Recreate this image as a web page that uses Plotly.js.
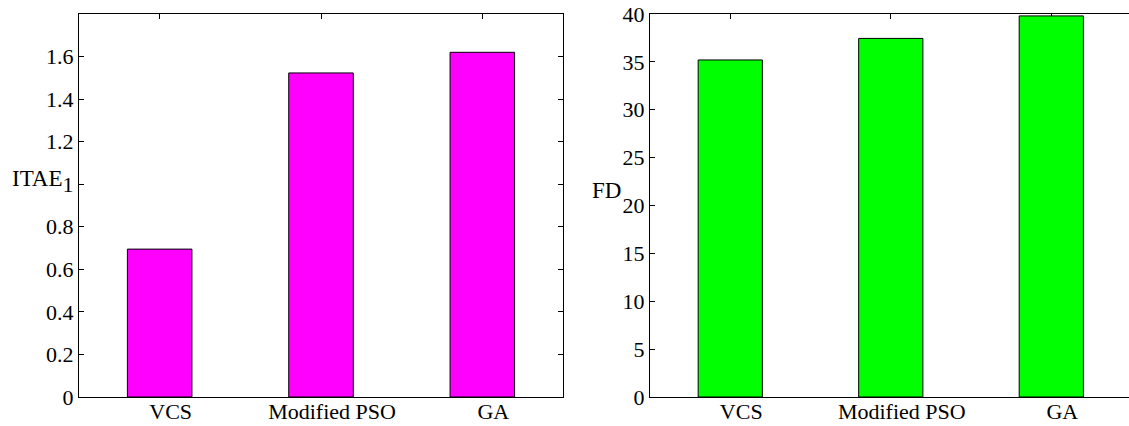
<!DOCTYPE html>
<html>
<head>
<meta charset="utf-8">
<script src="https://cdn.plot.ly/plotly-3.0.1.min.js"></script>
<style>html,body{margin:0;padding:0;background:#fff;} #chart{width:1129px;height:426px;}</style>
</head>
<body>
<div id="chart"></div>
<script>
const categories = ['VCS', 'Modified PSO', 'GA'];
const itaeValues = [0.695, 1.523, 1.62];
const fdValues = [35.2, 37.45, 39.8];
const itaeTicks = [0, 0.2, 0.4, 0.6, 0.8, 1, 1.2, 1.4, 1.6];
const fdTicks = [0, 5, 10, 15, 20, 25, 30, 35, 40];

const FONT = 'Liberation Serif';

const traces = [
  {type: 'bar', x: categories, y: itaeValues, xaxis: 'x', yaxis: 'y', width: 0.4,
   marker: {color: '#ff00ff', line: {color: '#000', width: 1}}, hoverinfo: 'none'},
  {type: 'bar', x: categories, y: fdValues, xaxis: 'x2', yaxis: 'y2', width: 0.4,
   marker: {color: '#00ff00', line: {color: '#000', width: 1}}, hoverinfo: 'none'}
];

const H = 426, W = 1129;
const yDom = [(H - 397) / H, (H - 14) / H];

function xAxis(extra) {
  return Object.assign({
    type: 'category', showgrid: false, zeroline: false, showline: true, linecolor: '#000', linewidth: 1,
    mirror: 'ticks', ticks: 'inside', ticklen: 5, tickcolor: '#000', layer: 'below traces',
    tickfont: {family: FONT, size: 22, color: '#000'}, ticklabelstandoff: -5, ticklabelshift: 11,
    fixedrange: true
  }, extra);
}
function yAxis(extra) {
  return Object.assign({
    showgrid: false, zeroline: false, showline: true, linecolor: '#000', linewidth: 1,
    ticks: 'inside', ticklen: 5, tickcolor: '#000', tickmode: 'array',
    tickfont: {family: FONT, size: 22, color: '#000'}, fixedrange: true
  }, extra);
}

const layout = {
  width: W, height: H, margin: {l: 0, r: 0, t: 0, b: 0},
  paper_bgcolor: '#fff', plot_bgcolor: '#fff', showlegend: false, bargap: 0,
  font: {family: FONT, color: '#000'},
  xaxis: xAxis({domain: [79 / W, 563 / W], range: [-0.5, 2.5], anchor: 'y'}),
  yaxis: yAxis({domain: yDom, range: [0, 1.8], tickvals: itaeTicks,
    ticktext: itaeTicks.map(v => String(v)), mirror: 'ticks', anchor: 'x'}),
  xaxis2: xAxis({domain: [650 / W, 1], range: [-0.5, 2.484], anchor: 'y2'}),
  yaxis2: yAxis({domain: yDom, range: [0, 40], tickvals: fdTicks, anchor: 'x2'}),
  yaxis3: {overlaying: 'y2', anchor: 'x2', side: 'right', range: [0, 40], tickmode: 'array', tickvals: fdTicks,
    ticks: 'inside', ticklen: 5, tickcolor: '#000', showticklabels: false, showline: false,
    showgrid: false, zeroline: false, fixedrange: true},
  annotations: [
    {text: 'ITAE', xref: 'paper', yref: 'paper', x: 37 / W, y: (H - 178) / H, xanchor: 'center', yanchor: 'middle',
     showarrow: false, font: {family: FONT, size: 23, color: '#000'}},
    {text: 'FD', xref: 'paper', yref: 'paper', x: 606 / W, y: (H - 190) / H, xanchor: 'center', yanchor: 'middle',
     showarrow: false, font: {family: FONT, size: 23, color: '#000'}}
  ]
};

Plotly.newPlot('chart', traces, layout, {displayModeBar: false, staticPlot: true});
</script>
</body>
</html>
